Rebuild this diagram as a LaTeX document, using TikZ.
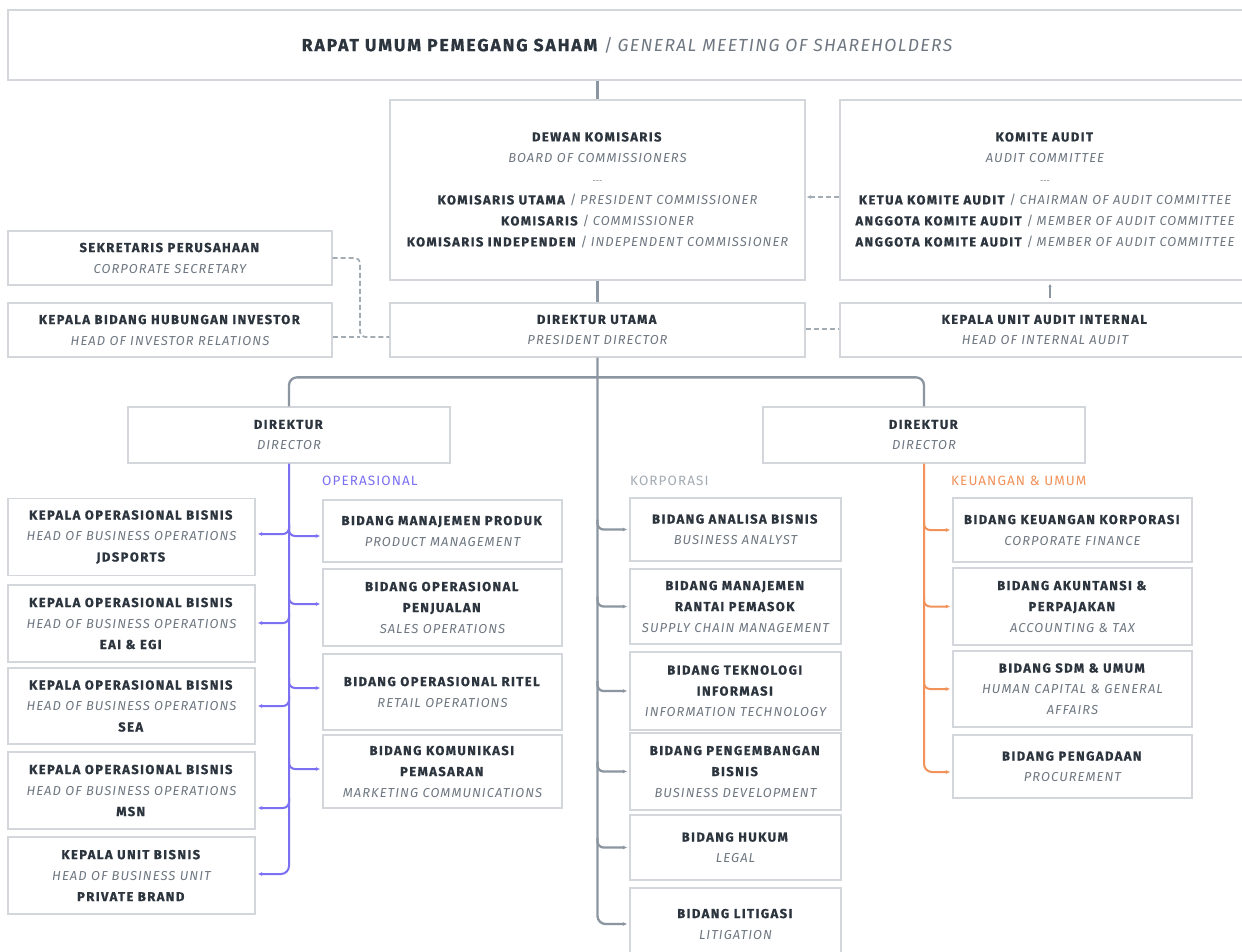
\documentclass[tikz,border=0pt]{standalone}
\usepackage{fontspec}
\setmainfont{Fira Sans}[BoldFeatures={LetterSpace=11, FakeBold=0.8}, ItalicFeatures={LetterSpace=8}]
\newfontfamily\labfont{Fira Sans}[LetterSpace=8]
\usetikzlibrary{arrows.meta,calc}
\definecolor{txt}{HTML}{2C343E}
\definecolor{sub}{HTML}{6E7781}
\definecolor{boxc}{HTML}{D3D7DC}
\definecolor{linec}{HTML}{8C96A0}
\definecolor{purp}{HTML}{7B6FF2}
\definecolor{orng}{HTML}{F0925A}
\definecolor{korp}{HTML}{A3ABB3}
\newcommand\idt[1]{\textbf{#1}}
\newcommand\ent[1]{{\color{sub}\itshape #1}}
\newcommand\slsh{{\color{sub}\ /\ }}
\newcommand\sepr{{\color{sub}\fontsize{8}{21}\selectfont -{}-{}-}}
\tikzset{
  box/.style={draw=boxc, line width=1.3pt, fill=white, inner sep=0pt, align=center, text=txt, font=\fontsize{13}{21}\selectfont},
  bx/.style 2 args={box, minimum width=#1pt, minimum height=#2pt},
  tipx/.style={-{Latex[length=4.5pt,width=4pt]}, shorten >=2pt},
  gl/.style={draw=linec, line width=2.3pt},
  pl/.style={draw=purp, line width=2pt},
  ol/.style={draw=orng, line width=2pt},
  dl/.style={draw=linec!80, line width=1.7pt, dash pattern=on 5pt off 3pt},
  lab/.style={anchor=west, inner sep=0pt, font=\labfont\fontsize{13.5}{15}\selectfont}
}
\begin{document}
\begin{tikzpicture}[x=1pt,y=-1pt]
\useasboundingbox (0,0) rectangle (1242,952);
\fill[white] (0,0) rectangle (1242,952);
\clip (0,0) rectangle (1242,952);

% top level
\node[bx={1238}{70}, font=\fontsize{17.5}{20}\selectfont] (rups) at (627,45) {\idt{RAPAT UMUM PEMEGANG SAHAM}\slsh\ent{GENERAL MEETING OF SHAREHOLDERS}};
\node[bx={415}{180}] (dewan) at (597.5,190) {\idt{DEWAN KOMISARIS}\\\ent{BOARD OF COMMISSIONERS}\\\sepr\\\idt{KOMISARIS UTAMA}\slsh\ent{PRESIDENT COMMISSIONER}\\\idt{KOMISARIS}\slsh\ent{COMMISSIONER}\\\idt{KOMISARIS INDEPENDEN}\slsh\ent{INDEPENDENT COMMISSIONER}};
\node[bx={410}{180}] (komite) at (1045,190) {\idt{KOMITE AUDIT}\\\ent{AUDIT COMMITTEE}\\\sepr\\\idt{KETUA KOMITE AUDIT}\slsh\ent{CHAIRMAN OF AUDIT COMMITTEE}\\\idt{ANGGOTA KOMITE AUDIT}\slsh\ent{MEMBER OF AUDIT COMMITTEE}\\\idt{ANGGOTA KOMITE AUDIT}\slsh\ent{MEMBER OF AUDIT COMMITTEE}};
\node[bx={324}{54}] (sekr) at (170,258) {\idt{SEKRETARIS PERUSAHAAN}\\\ent{CORPORATE SECRETARY}};
\node[bx={324}{54}] (kbhi) at (170,330) {\idt{KEPALA BIDANG HUBUNGAN INVESTOR}\\\ent{HEAD OF INVESTOR RELATIONS}};
\node[bx={415}{54}] (dirut) at (597.5,330) {\idt{DIREKTUR UTAMA}\\\ent{PRESIDENT DIRECTOR}};
\node[bx={410}{54}] (kuai) at (1045,330) {\idt{KEPALA UNIT AUDIT INTERNAL}\\\ent{HEAD OF INTERNAL AUDIT}};
\node[bx={322}{56}] (dirL) at (289,435) {\idt{DIREKTUR}\\\ent{DIRECTOR}};
\node[bx={322}{56}] (dirR) at (924,435) {\idt{DIREKTUR}\\\ent{DIRECTOR}};

% labels
\node[lab, text=purp] (lop) at (322,481) {OPERASIONAL};
\node[lab, text=korp] (lkorp) at (630,481) {KORPORASI};
\node[lab, text=orng] (lkeu) at (951,481) {KEUANGAN \& UMUM};

% left column
\node[bx={247}{77}] (jd) at (131.5,537) {\idt{KEPALA OPERASIONAL BISNIS}\\\ent{HEAD OF BUSINESS OPERATIONS}\\\idt{JDSPORTS}};
\node[bx={247}{77}] (eai) at (131.5,623.5) {\idt{KEPALA OPERASIONAL BISNIS}\\\ent{HEAD OF BUSINESS OPERATIONS}\\\idt{EAI \& EGI}};
\node[bx={247}{76}] (sea) at (131.5,706) {\idt{KEPALA OPERASIONAL BISNIS}\\\ent{HEAD OF BUSINESS OPERATIONS}\\\idt{SEA}};
\node[bx={247}{77}] (msn) at (131.5,790.5) {\idt{KEPALA OPERASIONAL BISNIS}\\\ent{HEAD OF BUSINESS OPERATIONS}\\\idt{MSN}};
\node[bx={247}{77}] (pb) at (131.5,875.5) {\idt{KEPALA UNIT BISNIS}\\\ent{HEAD OF BUSINESS UNIT}\\\idt{PRIVATE BRAND}};

% operasional
\node[bx={239}{62}] (prod) at (442.5,531) {\idt{BIDANG MANAJEMEN PRODUK}\\\ent{PRODUCT MANAGEMENT}};
\node[bx={239}{77}] (penj) at (442.5,607.5) {\idt{BIDANG OPERASIONAL}\\\idt{PENJUALAN}\\\ent{SALES OPERATIONS}};
\node[bx={239}{76}] (ritel) at (442.5,692) {\idt{BIDANG OPERASIONAL RITEL}\\\ent{RETAIL OPERATIONS}};
\node[bx={239}{73}] (komu) at (442.5,771.5) {\idt{BIDANG KOMUNIKASI}\\\idt{PEMASARAN}\\\ent{MARKETING COMMUNICATIONS}};

% korporasi
\node[bx={211}{63}] (ana) at (735.5,529.5) {\idt{BIDANG ANALISA BISNIS}\\\ent{BUSINESS ANALYST}};
\node[bx={211}{75}] (rantai) at (735.5,606.5) {\idt{BIDANG MANAJEMEN}\\\idt{RANTAI PEMASOK}\\\ent{SUPPLY CHAIN MANAGEMENT}};
\node[bx={211}{78}] (tek) at (735.5,691) {\idt{BIDANG TEKNOLOGI}\\\idt{INFORMASI}\\\ent{INFORMATION TECHNOLOGY}};
\node[bx={211}{77}] (pbis) at (735.5,771.5) {\idt{BIDANG PENGEMBANGAN}\\\idt{BISNIS}\\\ent{BUSINESS DEVELOPMENT}};
\node[bx={211}{65}] (hukum) at (735.5,847.5) {\idt{BIDANG HUKUM}\\\ent{LEGAL}};
\node[bx={211}{72}] (lit) at (735.5,924) {\idt{BIDANG LITIGASI}\\\ent{LITIGATION}};

% keuangan
\node[bx={239}{64}] (kk) at (1072.5,530) {\idt{BIDANG KEUANGAN KORPORASI}\\\ent{CORPORATE FINANCE}};
\node[bx={239}{77}] (akt) at (1072.5,606.5) {\idt{BIDANG AKUNTANSI \&}\\\idt{PERPAJAKAN}\\\ent{ACCOUNTING \& TAX}};
\node[bx={239}{76}] (sdm) at (1072.5,689) {\idt{BIDANG SDM \& UMUM}\\\ent{HUMAN CAPITAL \& GENERAL}\\\ent{AFFAIRS}};
\node[bx={239}{63}] (pgd) at (1072.5,766.5) {\idt{BIDANG PENGADAAN}\\\ent{PROCUREMENT}};

% gray main connectors
\draw[gl] (dewan.north |- rups.south) -- (dewan.north);
\draw[gl] (dewan.south) -- (dirut.north);
\draw[gl, rounded corners=8pt] (dirL.north) -- ++(0,-29) -| (dirR.north);
\draw[gl, tipx, rounded corners=8pt] (dirut.south) -- (dirut.south |- lit.west) -- (lit.west);
\foreach \n in {ana,rantai,tek,pbis,hukum}
  \draw[gl, tipx, rounded corners=6pt] ($(dirut.south |- \n.west)+(0,-10)$) -- (dirut.south |- \n.west) -- (\n.west);

% purple
\draw[pl, tipx, rounded corners=8pt] (dirL.south) -- ([yshift=1.5pt]dirL.south |- pb.east) -- ([yshift=1.5pt]pb.east);
\foreach \n/\s in {jd/3pt,eai/0.5pt,sea/0pt,msn/-17.5pt}
  \draw[pl, tipx, rounded corners=6pt] ($([yshift=\s]dirL.south |- \n.east)+(0,-10)$) -- ([yshift=\s]dirL.south |- \n.east) -- ([yshift=\s]\n.east);
\foreach \n/\s in {prod/-5pt,penj/3.5pt,ritel/4pt,komu/2.5pt}
  \draw[pl, tipx, rounded corners=6pt] ($([yshift=\s]dirL.south |- \n.west)+(0,-10)$) -- ([yshift=\s]dirL.south |- \n.west) -- ([yshift=\s]\n.west);

% orange
\draw[ol, tipx, rounded corners=8pt] (dirR.south) -- ([yshift=-5.5pt]dirR.south |- pgd.west) -- ([yshift=-5.5pt]pgd.west);
\foreach \n in {kk,akt,sdm}
  \draw[ol, tipx, rounded corners=6pt] ($(dirR.south |- \n.west)+(0,-10)$) -- (dirR.south |- \n.west) -- (\n.west);

% dashed relations
\coordinate (dj) at (360,337);
\draw[dl, rounded corners=5pt] (sekr.east) -| (dj) -- ([yshift=-7pt]dirut.west);
\draw[dl] ([yshift=-7pt]kbhi.east) -- (dj);
\draw[dl, -{Latex[length=4pt,width=4pt]}, shorten >=1pt] ([yshift=-7pt]komite.west) -- ([yshift=-7pt]dewan.east);
\draw[dl] ([yshift=1pt]dirut.east) -- ([yshift=1pt]kuai.west);
\draw[draw=linec, line width=1.2pt, -{Latex[length=3.5pt,width=3.5pt]}, shorten <=4pt, shorten >=3pt] ([xshift=5pt]kuai.north) -- ([xshift=5pt]komite.south);
\end{tikzpicture}
\end{document}
